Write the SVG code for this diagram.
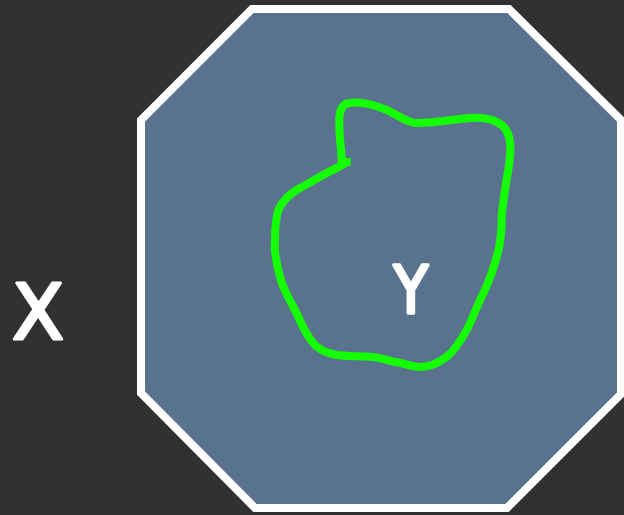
<svg xmlns="http://www.w3.org/2000/svg" width="624" height="515" viewBox="0 0 624 515">
<style>
.bg{fill:#313131}
.oct{fill:#59738f;stroke:#ffffff;stroke-width:8;stroke-linejoin:miter}
.blob{fill:none;stroke:#14ff00;stroke-width:8;stroke-linejoin:round;stroke-linecap:butt}
.lbl{font-family:"DejaVu Sans","Liberation Sans",sans-serif;fill:#ffffff;stroke:#ffffff;stroke-linejoin:round;text-anchor:middle}
</style>
<rect class="bg" x="0" y="0" width="624" height="515"/>
<g id="set-octagon">
<polygon class="oct" points="141,120 252,9 509,9 621,120 621,394 507,508 255,508 141,393"/>
</g>
<g id="region-y">
<path class="blob" d="M350.7,162 L341.7,162 C341.5,150 339,135 339.3,123 C339,110 342,104 349,103 C360,101 375,105 386.7,110 C398,115 405,121 413.3,122.7 C425,124 440,121 466.7,118.3 C480,117 495,118 504,127 C511,135 511,147 510,156.7 C509,170 506,180 505,190 C503,205 501,215 501.7,223.3 C501,240 499,250 496.7,256.7 C492,275 488,283 483.3,293.3 C476,308 472,320 466.7,330 C460,342 453,352 446.7,356.7 C437,364 427,368 416.7,366.7 C405,365 400,362 393.3,361.7 C383,359 378,357 370,356.7 C355,356 345,356 336.7,355 C325,353 318,349 313.3,343.3 C305,333 300,321 296.7,313.3 C290,300 283,290 280,276.7 C276,262 274,250 275,240 C275,228 276,218 278.3,210 C283,200 290,194 296.7,190 C305,185 313,181 320,176.7 C330,171 340,167 346.7,162"/>
</g>
<g id="label-x">
<text class="lbl" x="38" y="339" font-size="76" stroke-width="3">X</text>
</g>
<g id="label-y">
<text class="lbl" x="0" y="0" font-size="66" stroke-width="3.5" transform="translate(411,313) scale(0.85,1)">Y</text>
</g>
<g id="connectors"></g>
</svg>
